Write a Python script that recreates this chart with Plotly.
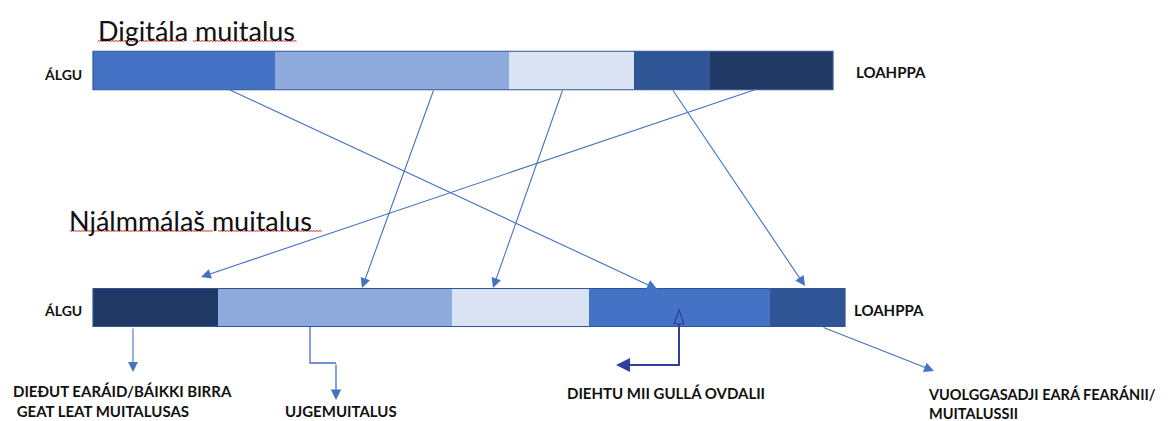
import numpy as np
import plotly.graph_objects as go

# ---- data ----
segment_names = ["Álgu-oassi", "Gaskaoassi 1", "Gaskaoassi 2", "Gaskaoassi 3", "Loahppa-oassi"]
digital_values = [182, 234, 125, 76, 123]
digital_colors = ["#4472C4", "#8FAADC", "#DAE3F3", "#2F5597", "#203864"]
oral_values = [125, 234, 137, 181, 75]
oral_colors = ["#203864", "#8FAADC", "#DAE3F3", "#4472C4", "#2F5597"]
start_label = "ÁLGU"
end_label = "LOAHPPA"
title_digital = "Digitála muitalus"
title_oral = "Njálmmálaš muitalus"
bottom_texts = [
    "DIEĐUT EARÁID/BÁIKKI BIRRA<br> GEAT LEAT MUITALUSAS",
    "UJGEMUITALUS",
    "DIEHTU MII GULLÁ OVDALII",
    "VUOLGGASADJI EARÁ FEARÁNII/<br>MUITALUSSII",
]

# ---- layout geometry ----
W, H = 1170, 421
X0 = 93
TOP_Y, TOP_H = 70.5, 38.5
BOT_Y, BOT_H = 307.5, 38
LINE = "#4472C4"
NAVY = "#2F3E9E"
FONT = "Lato"

fig = go.Figure()


def add_bar(values, colors, yc, h):
    base = X0
    for v, c, n in zip(values, colors, segment_names):
        fig.add_trace(go.Bar(
            x=[v], y=[yc], base=[base], orientation="h", width=h,
            marker=dict(color=c, line=dict(width=0)), name=n,
            showlegend=False, hoverinfo="skip"))
        base += v
    fig.add_shape(type="rect", x0=X0, x1=base, y0=yc - h / 2, y1=yc + h / 2,
                  line=dict(color="#2F5597", width=1.2), layer="above")
    return base


top_end = add_bar(digital_values, digital_colors, TOP_Y, TOP_H)
bot_end = add_bar(oral_values, oral_colors, BOT_Y, BOT_H)

ann = []


def text(x, y, s, size=15, bold=True, anchor="left", color="#111111"):
    ann.append(dict(x=x, y=y, xref="x", yref="y", text=(f"<b>{s}</b>" if bold else s),
                    showarrow=False, xanchor=anchor, yanchor="middle", align="left",
                    font=dict(family=FONT, size=size, color=color)))


def arrow(x0, y0, x1, y1, color=LINE, width=1.1, head=2, size=1.8):
    ann.append(dict(x=x1, y=y1, ax=x0, ay=y0, xref="x", yref="y", axref="x", ayref="y",
                    text="", showarrow=True, arrowhead=head, arrowsize=size,
                    arrowwidth=width, arrowcolor=color, standoff=0, startstandoff=0))


# titles
text(96, 30, title_digital, size=27, bold=False)
text(67, 220, title_oral, size=27, bold=False)

# spell-check squiggles under titles
def squiggle(x0, x1, y):
    xs = np.arange(x0, x1 + 0.1, 1.5)
    ys = y + np.where((np.arange(len(xs)) % 2) == 0, -1.0, 1.0)
    fig.add_trace(go.Scatter(x=xs, y=ys, mode="lines", line=dict(color="#E0403A", width=0.9),
                             showlegend=False, hoverinfo="skip"))

squiggle(98, 185, 41)
squiggle(193, 297, 41)
squiggle(70, 213, 231)
squiggle(218, 322, 231)

# start / end labels
text(42, 74, start_label, size=14)
text(854, 72, end_label)
text(42, 310, start_label, size=14)
text(852, 310, end_label)

# mapping arrows digital -> oral
arrow(228, 89, 657, 289)
arrow(434, 89, 362, 288)
arrow(563, 89, 493, 288)
arrow(672, 89, 805, 286)
arrow(757, 89, 201, 277)

# lower connectors
arrow(133, 327, 133, 372)
fig.add_trace(go.Scatter(x=[310, 310, 336], y=[327, 363, 363], mode="lines",
                         line=dict(color=LINE, width=1.3), showlegend=False, hoverinfo="skip"))
arrow(336, 363, 336, 400, width=1.3, size=1.6)

fig.add_trace(go.Scatter(x=[679, 679, 630], y=[324, 365, 365], mode="lines",
                         line=dict(color=NAVY, width=2), showlegend=False, hoverinfo="skip"))
arrow(640, 365, 616, 365, color=NAVY, width=2, head=2, size=1.4)
fig.add_shape(type="path", path="M 674 324 L 679 310 L 684 324 Z",
              line=dict(color=NAVY, width=1.2), fillcolor="#4472C4", layer="above")

arrow(822, 327, 934, 371)

# bottom texts
text(11, 401, bottom_texts[0])
text(283, 411, bottom_texts[1])
text(565, 393, bottom_texts[2])
text(926, 403, bottom_texts[3], size=14.5)

fig.update_layout(
    width=W, height=H, margin=dict(l=0, r=0, t=0, b=0),
    paper_bgcolor="white", plot_bgcolor="white",
    barmode="overlay", annotations=ann,
    xaxis=dict(range=[0, W], visible=False, fixedrange=True),
    yaxis=dict(range=[H, 0], visible=False, fixedrange=True),
    font=dict(family=FONT),
)

fig.write_html("out.html", config={"displayModeBar": False},
               post_script="document.body.style.margin='0px';document.body.style.overflow='hidden';")
